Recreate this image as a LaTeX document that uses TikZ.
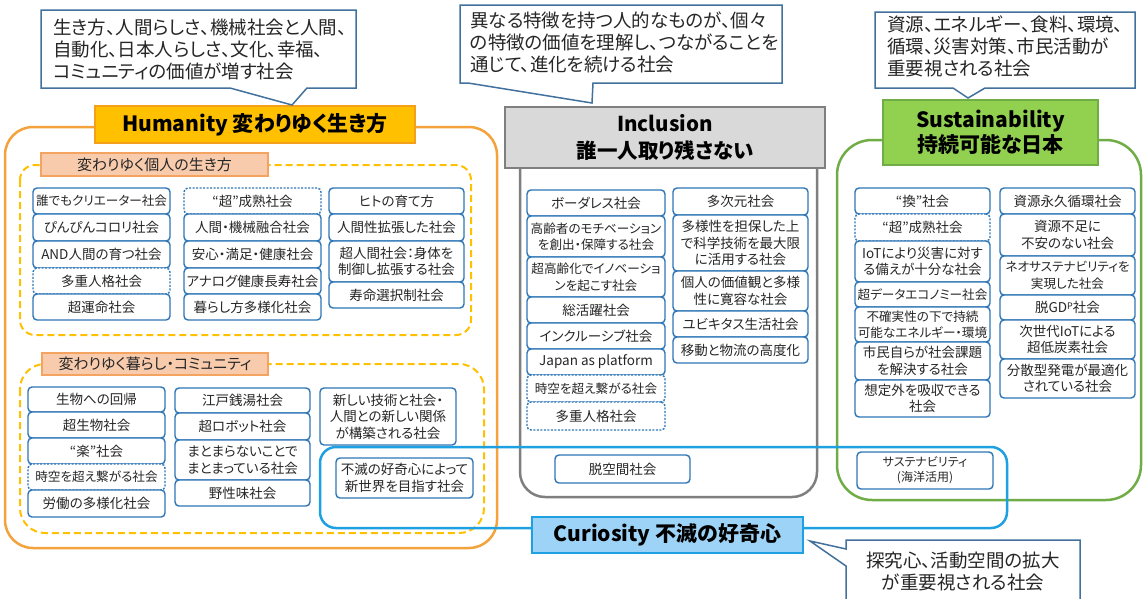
\documentclass[tikz,border=0pt]{standalone}
\usepackage{fontspec}
\setmainfont{Noto Sans CJK JP}[RawFeature=+palt]
\definecolor{boxblue}{HTML}{2E75B6}
\definecolor{callc}{HTML}{41719C}
\definecolor{txt}{HTML}{262626}
\definecolor{hfill}{HTML}{FFC000}
\definecolor{hdraw}{HTML}{F5A01A}
\definecolor{horange}{HTML}{F4A23C}
\definecolor{hyellow}{HTML}{FFC000}
\definecolor{lblfill}{HTML}{F8CBAD}
\definecolor{lbldraw}{HTML}{F4A460}
\definecolor{gfill}{HTML}{D9D9D9}
\definecolor{gdraw}{HTML}{7F7F7F}
\definecolor{sfill}{HTML}{92D050}
\definecolor{sdraw}{HTML}{70AD47}
\definecolor{cfill}{HTML}{9DD3F7}
\definecolor{cdraw}{HTML}{1DA1E2}
\newcommand\bx[7][]{%
  \node[sbox,#1,minimum width={(#5)-(#3)},minimum height={(#6)-(#4)}] (#2)
    at ({((#3)+(#5))/2},{((#4)+(#6))/2}) {#7};}
\begin{document}
\begin{tikzpicture}[x=1pt,y=-1pt,
  sbox/.style={draw=boxblue,fill=white,line width=1.4pt,rounded corners=4pt,
    align=center,inner sep=0.5pt,outer sep=0pt,text=txt,
    font=\fontsize{13.5}{16.5}\selectfont},
  dbox/.style={dash pattern=on 2pt off 1.5pt},
  tight/.style={font=\fontsize{12.6}{16.5}\selectfont},
  callout/.style={draw=callc,fill=white,line width=1.5pt},
  calltext/.style={text=txt,align=left,inner sep=0pt,anchor=north west,
    font=\fontsize{18.5}{22}\selectfont},
  title/.style={line width=2pt,align=center,inner sep=0pt,outer sep=0pt,
    text=black,font=\bfseries\fontsize{21}{26}\selectfont},
  lbl/.style={draw=lbldraw,fill=lblfill,line width=1.2pt,inner sep=0pt,
    outer sep=0pt,text=txt,font=\fontsize{15}{18}\selectfont},
  secbox/.style={draw=hyellow,line width=2pt,dash pattern=on 7pt off 4pt}
]
\useasboundingbox (0,0) rectangle (1145,598);
\fill[white] (0,0) rectangle (1145,598);

% outer group boxes
\draw[horange,line width=2.5pt,rounded corners=28pt] (5,127) rectangle (497,548);
\draw[gdraw,line width=2.5pt,rounded corners=25pt] (520,140) rectangle (817,497);
\draw[sdraw,line width=2.5pt,rounded corners=35pt] (837,140) rectangle (1141,500);

% dashed sections of Humanity
\draw[secbox,rounded corners=15pt] (20,165) rectangle (471,335);
\draw[secbox,rounded corners=25pt] (20,364) rectangle (484,533);

% Curiosity region
\draw[cdraw,line width=2.5pt,rounded corners=16pt] (320,447) rectangle (1007,528);

% Section 1 boxes
\bx[tight]{h11}{33}{188}{170}{214}{誰でもクリエーター社会}
\bx{h12}{33}{214}{170}{241}{ぴんぴんコロリ社会}
\bx{h13}{33}{241}{170}{268}{AND人間の育つ社会}
\bx[dbox]{h14}{33}{268}{170}{294}{多重人格社会}
\bx{h15}{33}{294}{170}{320}{超運命社会}
\bx[dbox]{h21}{184}{188}{321}{214}{“超”成熟社会}
\bx{h22}{184}{214}{321}{241}{人間・機械融合社会}
\bx{h23}{184}{241}{321}{268}{安心・満足・健康社会}
\bx{h24}{184}{268}{321}{294}{アナログ健康長寿社会}
\bx{h25}{184}{294}{321}{320}{暮らし方多様化社会}
\bx{h31}{329}{188}{464}{214}{ヒトの育て方}
\bx{h32}{329}{214}{464}{241}{人間性拡張した社会}
\bx{h33}{329}{241}{464}{282}{超人間社会：身体を\\制御し拡張する社会}
\bx{h34}{329}{282}{464}{308}{寿命選択制社会}

% Section 2 boxes
\bx{k11}{28}{387}{165}{412}{生物への回帰}
\bx{k12}{28}{412}{165}{438}{超生物社会}
\bx{k13}{28}{438}{165}{464}{“楽”社会}
\bx[dbox,tight]{k14}{28}{464}{165}{490}{時空を超え繋がる社会}
\bx{k15}{28}{490}{165}{517}{労働の多様化社会}
\bx{k21}{175}{388}{310}{413}{江戸銭湯社会}
\bx{k22}{175}{413}{310}{440}{超ロボット社会}
\bx{k23}{175}{440}{310}{480}{まとまらないことで\\まとまっている社会}
\bx{k24}{175}{480}{310}{506}{野性味社会}
\bx{k31}{320}{388}{456}{445}{新しい技術と社会・\\人間との新しい関係\\が構築される社会}
\bx{k32}{336}{458}{473}{498}{不滅の好奇心によって\\新世界を目指す社会}

% Inclusion boxes
\bx{i11}{527}{190}{665}{216}{ボーダレス社会}
\bx[tight]{i12}{527}{216}{665}{257}{高齢者のモチベーション\\を創出・保障する社会}
\bx[tight]{i13}{527}{257}{665}{297}{超高齢化でイノベーショ\\ンを起こす社会}
\bx{i14}{527}{297}{665}{323}{総活躍社会}
\bx{i15}{527}{323}{665}{349}{インクルーシブ社会}
\bx{i16}{527}{349}{665}{375}{Japan as platform}
\bx[dbox,tight]{i17}{527}{375}{665}{402}{時空を超え繋がる社会}
\bx[dbox]{i18}{527}{402}{665}{430}{多重人格社会}
\bx{i21}{673}{188}{808}{215}{多次元社会}
\bx{i22}{673}{215}{808}{271}{多様性を担保した上\\で科学技術を最大限\\に活用する社会}
\bx{i23}{673}{271}{808}{311}{個人の価値観と多様\\性に寛容な社会}
\bx{i24}{673}{311}{808}{337}{ユビキタス生活社会}
\bx{i25}{673}{337}{808}{363}{移動と物流の高度化}
\bx{i3}{555}{455}{690}{483}{脱空間社会}

% Sustainability boxes
\bx{s11}{855}{188}{990}{214}{“換”社会}
\bx[dbox]{s12}{855}{214}{990}{241}{“超”成熟社会}
\bx{s13}{855}{241}{990}{282}{IoTにより災害に対す\\る備えが十分な社会}
\bx[tight]{s14}{855}{282}{990}{307}{超データエコノミー社会}
\bx[tight]{s15}{855}{307}{990}{342}{不確実性の下で持続\\可能なエネルギー・環境}
\bx{s16}{855}{342}{990}{380}{市民自らが社会課題\\を解決する社会}
\bx{s17}{855}{380}{990}{417}{想定外を吸収できる\\社会}
\bx{s21}{1000}{188}{1135}{214}{資源永久循環社会}
\bx{s22}{1000}{214}{1135}{256}{資源不足に\\不安のない社会}
\bx[tight]{s23}{1000}{256}{1135}{295}{ネオサステナビリティを\\実現した社会}
\bx{s24}{1000}{295}{1135}{320}{脱GD{\fontsize{9}{9}\selectfont\raisebox{3pt}{P}}社会}
\bx{s25}{1000}{320}{1135}{359}{次世代IoTによる\\超低炭素社会}
\bx{s26}{1000}{359}{1135}{398}{分散型発電が最適化\\されている社会}
\bx[font=\fontsize{12}{15}\selectfont]{s3}{857}{452}{993}{489}{サステナビリティ\\(海洋活用)}

% section labels
\node[lbl,minimum width=227pt,minimum height=23pt] (lb1) at (154.5,164.5) {変わりゆく個人の生き方};
\node[lbl,minimum width=226pt,minimum height=22pt] (lb2) at (155,364) {変わりゆく暮らし・コミュニティ};

% titles
\node[title,draw=hdraw,fill=hfill,minimum width=320pt,minimum height=37pt] (th) at (255,124.5) {Humanity 変わりゆく生き方};
\node[title,draw=gdraw,fill=gfill,line width=2.5pt,minimum width=320pt,minimum height=61pt,font=\bfseries\fontsize{20.5}{27}\selectfont] (ti) at (665,137.5) {Inclusion\\誰一人取り残さない};
\node[title,draw=sdraw,fill=sfill,minimum width=215pt,minimum height=65pt,font=\bfseries\fontsize{21}{25}\selectfont] (ts) at (990.5,132.5) {Sustainability\\持続可能な日本};
\node[title,draw=cdraw,fill=cfill,minimum width=271pt,minimum height=36pt] (tc) at (667.5,535) {Curiosity 不滅の好奇心};

% callouts
\draw[callout] (41,10) -- (356,10) -- (356,88) -- (307,88) -- (292,105) -- (230,88) -- (41,88) -- cycle;
\node[calltext] (ch) at (53,19) {生き方、人間らしさ、機械社会と人間、\\自動化、日本人らしさ、文化、幸福、\\コミュニティの価値が増す社会};

\draw[callout] (460,5) -- (782,5) -- (782,83) -- (593,83) -- (592,103) -- (468,83) -- (460,83) -- cycle;
\node[calltext] (ci) at (470,12) {異なる特徴を持つ人的なものが、個々\\の特徴の価値を理解し、つながることを\\通じて、進化を続ける社会};

\draw[callout] (875,12) -- (1135,12) -- (1135,88) -- (985,88) -- (968,98) -- (953,88) -- (875,88) -- cycle;
\node[calltext] (cs) at (887,16) {資源、エネルギー、食料、環境、\\循環、災害対策、市民活動が\\重要視される社会};

\draw[callout] (846,600) -- (846,566) -- (810,541) -- (846,549) -- (846,540) -- (1080,540) -- (1080,600);
\node[calltext,align=center,anchor=center] (cc) at (963,571) {探究心、活動空間の拡大\\が重要視される社会};
\end{tikzpicture}
\end{document}
